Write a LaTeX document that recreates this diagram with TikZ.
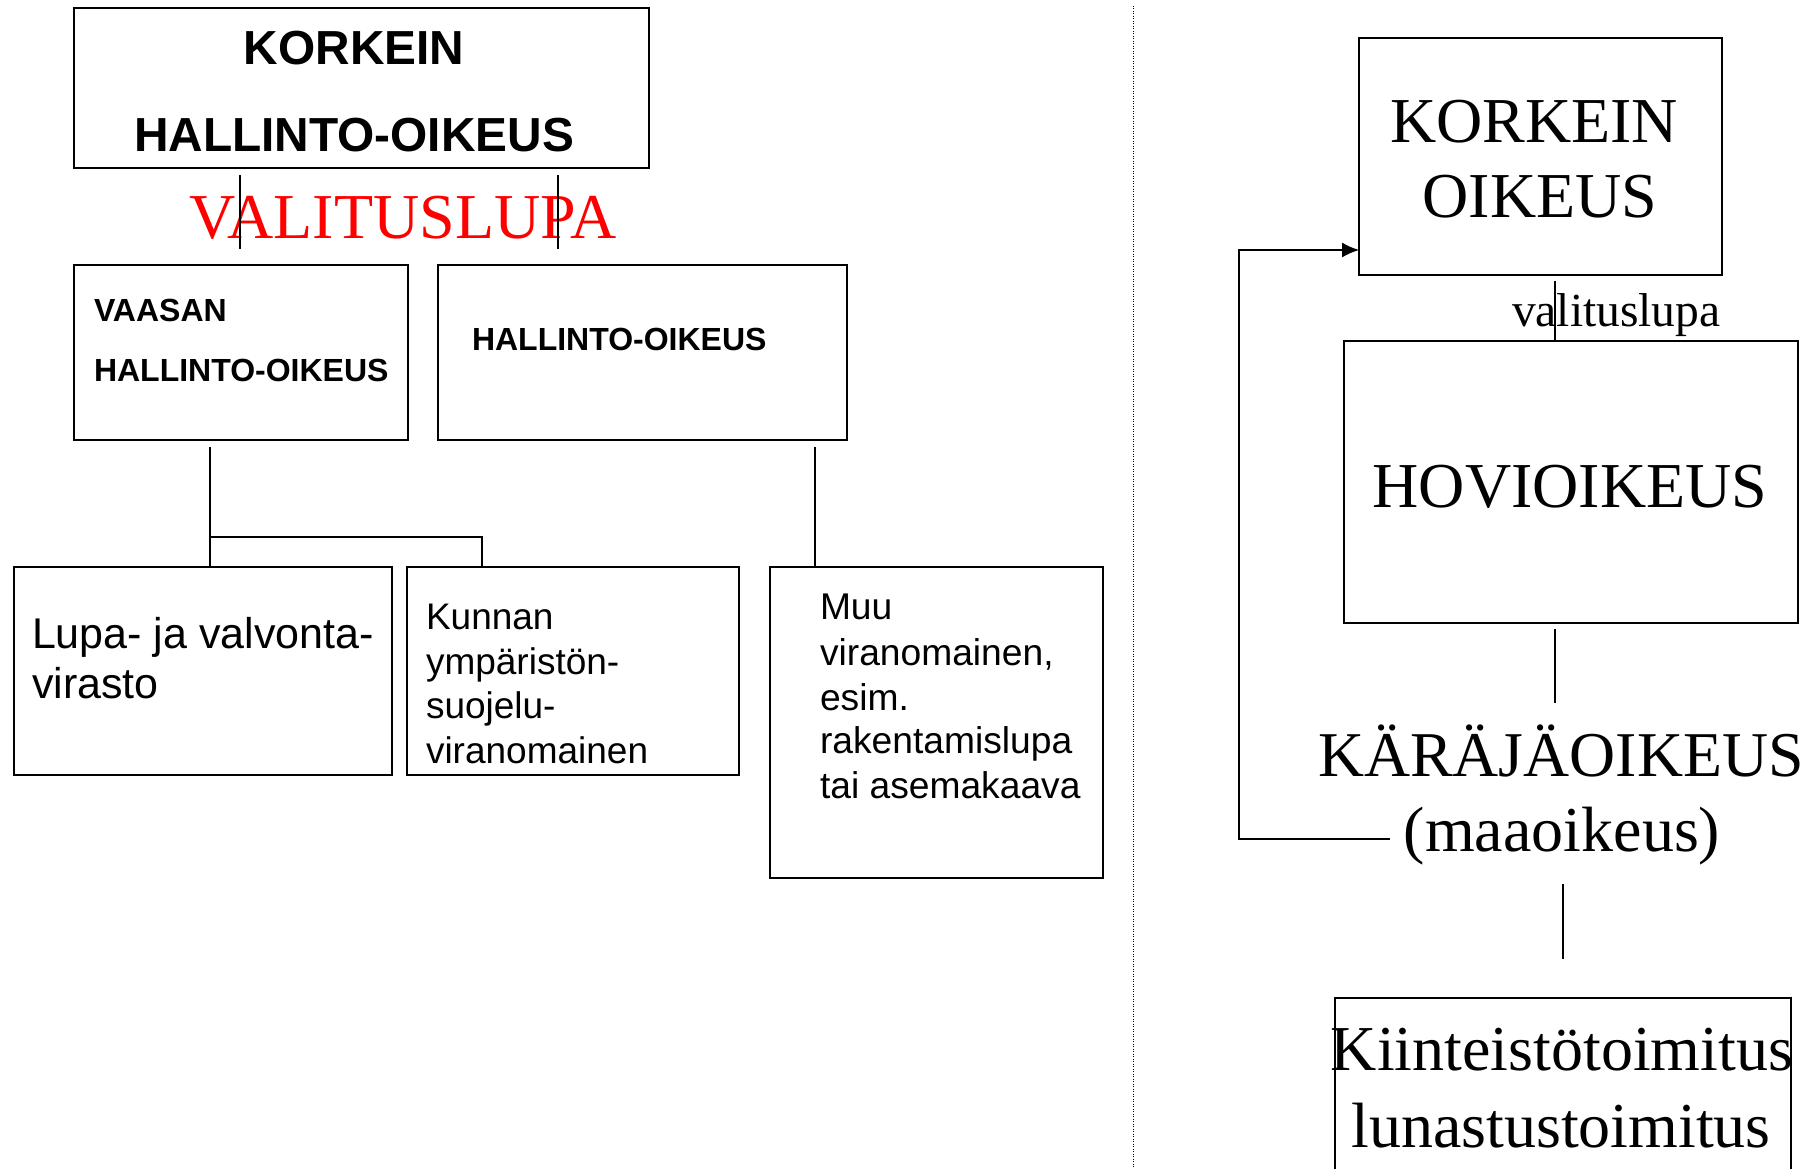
\documentclass[tikz,border=0pt]{standalone}
\usepackage{fontspec}
\usetikzlibrary{arrows.meta}
\newfontfamily\asans{Liberation Sans}
\newfontfamily\tserif{Liberation Serif}
\definecolor{valred}{RGB}{255,0,0}
\begin{document}
\begin{tikzpicture}[x=1pt,y=-1pt,
  box/.style={draw, line width=1.8pt, rectangle, inner sep=0pt, outer sep=0pt},
  conn/.style={line width=1.3pt},
  lbl/.style={inner sep=0pt, outer sep=0pt},
  sepline/.style={line width=1pt, dash pattern=on 1pt off 1.5pt},
]
\clip (0,0) rectangle (1812,1169);
\fill[white] (0,0) rectangle (1812,1169);

% ---------- left side boxes ----------
\node[box, minimum width=575pt, minimum height=160pt] (kho) at (361.5,88) {};
\node[box, minimum width=334pt, minimum height=175pt] (vaasa) at (241,352.5) {};
\node[box, minimum width=409pt, minimum height=175pt] (ho) at (642.5,352.5) {};
\node[box, minimum width=378pt, minimum height=208pt] (lupa) at (203,671) {};
\node[box, minimum width=332pt, minimum height=208pt] (kunta) at (573,671) {};
\node[box, minimum width=333pt, minimum height=311pt] (muu) at (936.5,722.5) {};

% texts
\node[lbl, anchor=base] (t1) at (354,65) {\asans\bfseries\fontsize{47.8}{57}\selectfont KORKEIN};
\node[lbl, anchor=base] (t2) at (354,152) {\asans\bfseries\fontsize{47.8}{57}\selectfont HALLINTO-OIKEUS};
\node[lbl, anchor=base, text=valred] (vl) at (403,238) {\tserif\fontsize{64}{72}\selectfont VALITUSLUPA};
\node[lbl, anchor=base west] (t3) at (94,321) {\asans\bfseries\fontsize{32}{38}\selectfont VAASAN};
\node[lbl, anchor=base west] (t4) at (94,381) {\asans\bfseries\fontsize{32}{38}\selectfont HALLINTO-OIKEUS};
\node[lbl, anchor=base west] (t5) at (472,350) {\asans\bfseries\fontsize{32}{38}\selectfont HALLINTO-OIKEUS};
\node[lbl, anchor=base west] (l1) at (32,648) {\asans\fontsize{43}{50}\selectfont Lupa- ja valvonta-};
\node[lbl, anchor=base west] (l2) at (32,698) {\asans\fontsize{43}{50}\selectfont virasto};
\node[lbl, anchor=base west] (k1) at (426,629) {\asans\fontsize{37}{44}\selectfont Kunnan};
\node[lbl, anchor=base west] (k2) at (426,674) {\asans\fontsize{37}{44}\selectfont ympäristön-};
\node[lbl, anchor=base west] (k3) at (426,718) {\asans\fontsize{37}{44}\selectfont suojelu-};
\node[lbl, anchor=base west] (k4) at (426,763) {\asans\fontsize{37}{44}\selectfont viranomainen};
\node[lbl, anchor=base west] (m1) at (820,619) {\asans\fontsize{37.2}{44}\selectfont Muu};
\node[lbl, anchor=base west] (m2) at (820,665) {\asans\fontsize{37.2}{44}\selectfont viranomainen,};
\node[lbl, anchor=base west] (m3) at (820,710) {\asans\fontsize{37.2}{44}\selectfont esim.};
\node[lbl, anchor=base west] (m4) at (820,753) {\asans\fontsize{37.2}{44}\selectfont rakentamislupa};
\node[lbl, anchor=base west] (m5) at (820,798) {\asans\fontsize{37.2}{44}\selectfont tai asemakaava};

% left connectors
\coordinate (va) at (240,175); \coordinate (vb) at (240,249);
\coordinate (vc) at (558,175); \coordinate (vd) at (558,249);
\draw[conn] (va) -- (vb);
\draw[conn] (vc) -- (vd);
\coordinate (vs) at (210,447);
\coordinate (vj) at (210,537);
\coordinate (vk) at (482,537);
\draw[conn] (vs) -- (lupa.north -| vs);
\draw[conn] (vj) -- (vk) -- (kunta.north -| vk);
\coordinate (hs) at (815,447);
\draw[conn] (hs) -- (muu.north -| hs);

% separator
\coordinate (sa) at (1133,6); \coordinate (sb) at (1133,1169);
\draw[sepline] (sa) -- (sb);

% ---------- right side ----------
\node[box, minimum width=363pt, minimum height=237pt] (ko) at (1540.5,156.5) {};
\node[box, minimum width=454pt, minimum height=282pt] (hov) at (1571,482) {};
\node[box, minimum width=456pt, minimum height=202pt] (kt) at (1563,1099) {};

\node[lbl, anchor=base] (r1) at (1534,143) {\tserif\fontsize{64}{75}\selectfont KORKEIN};
\node[lbl, anchor=base] (r2) at (1540,218) {\tserif\fontsize{64}{75}\selectfont OIKEUS};
\node[lbl, anchor=base west] (vlr) at (1512,326) {\tserif\fontsize{47.5}{55}\selectfont valituslupa};
\node[lbl, anchor=base] (r3) at (1570,507) {\tserif\fontsize{64}{75}\selectfont HOVIOIKEUS};
\node[lbl, anchor=base] (kar) at (1561,776) {\tserif\fontsize{63.8}{75}\selectfont KÄRÄJÄOIKEUS};
\node[lbl, anchor=base] (maa) at (1562,851) {\tserif\fontsize{64}{75}\selectfont (maaoikeus)};
\node[lbl, anchor=base] (r4) at (1562,1070) {\tserif\fontsize{64}{75}\selectfont Kiinteistötoimitus};
\node[lbl, anchor=base] (r5) at (1561,1147) {\tserif\fontsize{64}{75}\selectfont lunastustoimitus};

% right connectors
\coordinate (ra) at (1555,281);
\draw[conn] (ra) -- (hov.north -| ra);
\coordinate (rb) at (1555,629); \coordinate (rc) at (1555,703);
\draw[conn] (rb) -- (rc);
\coordinate (rd) at (1563,884); \coordinate (re) at (1563,959);
\draw[conn] (rd) -- (re);
\coordinate (aw) at (1390,839);
\coordinate (ac) at (1239,250);
\draw[conn, -{Latex[length=17pt,width=15pt]}] (aw) -| (ac) -- (ko.west |- ac);
\end{tikzpicture}
\end{document}
